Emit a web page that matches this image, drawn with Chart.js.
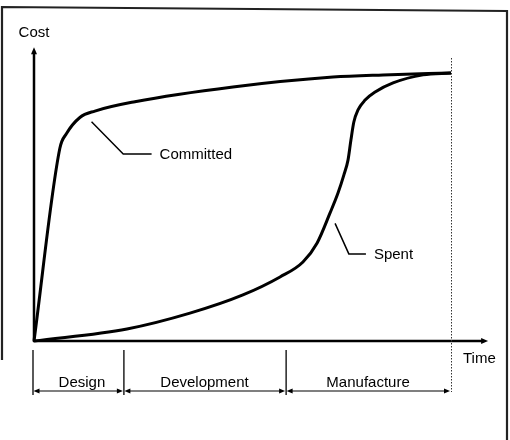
<!DOCTYPE html>
<html>
<head>
<meta charset="utf-8">
<script src="https://cdn.jsdelivr.net/npm/chart.js@4"></script>
<style>
html,body{margin:0;padding:0;background:#fff;}
#wrap{width:510px;height:440px;position:relative;}
</style>
</head>
<body>
<div id="wrap"><canvas id="c" width="510" height="440"></canvas></div>
<script>
// ---- data (time and cost in relative units, 100 = end of manufacture) ----
const timeCommitted = [0, 6.2, 7.8, 11.0, 14.6, 24.2, 47.7, 71.7, 83.7, 100];
const costCommitted = [0, 71.9, 77.4, 83.4, 85.8, 89.3, 94.8, 98.5, 99.3, 100];

const timeSpent = [0, 22.3, 37.4, 50.1, 59.0, 64.5, 67.9, 71.0, 72.9, 74.3, 75.3, 76.0, 76.7, 77.7, 79.4, 81.8, 86.1, 93.3, 100];
const costSpent = [0, 4.5, 10.4, 17.2, 23.9, 29.5, 36.6, 47.8, 55.2, 61.9, 67.5, 75.0, 81.7, 86.2, 89.9, 92.9, 96.3, 99.3, 100];

const phaseNames = ['Design', 'Development', 'Manufacture'];
const phaseBounds = [0, 21.8, 60.7, 100];

const axisTitleX = 'Time';
const axisTitleY = 'Cost';

// leader lines for the curve labels: [t, cost] points, label anchored at the last one
const labelCommitted = 'Committed';
const leaderCommitted = [[13.8, 81.8], [21.4, 69.8], [28.2, 69.8]];
const labelSpent = 'Spent';
const leaderSpent = [[72.2, 43.9], [75.5, 32.5], [79.6, 32.5]];

const toXY = (xs, ys) => xs.map((x, i) => ({x: x, y: ys[i]}));

const FONT = '15px "Liberation Sans", Arial, sans-serif';

function arrowHead(ctx, x, y, dir, len, half) {
  ctx.beginPath();
  if (dir === 'up') { ctx.moveTo(x, y); ctx.lineTo(x - half, y + len); ctx.lineTo(x + half, y + len); }
  if (dir === 'right') { ctx.moveTo(x, y); ctx.lineTo(x - len, y - half); ctx.lineTo(x - len, y + half); }
  if (dir === 'left') { ctx.moveTo(x, y); ctx.lineTo(x + len, y - half); ctx.lineTo(x + len, y + half); }
  ctx.closePath();
  ctx.fill();
}

const decor = {
  id: 'decor',
  beforeDatasetsDraw(chart) {
    const ctx = chart.ctx;
    const xs = chart.scales.x, ys = chart.scales.y;
    const X = v => xs.getPixelForValue(v), Y = v => ys.getPixelForValue(v);
    ctx.save();
    // frame
    ctx.strokeStyle = '#222';
    ctx.lineWidth = 2.2;
    ctx.beginPath();
    ctx.moveTo(2, 360); ctx.lineTo(2, 7); ctx.lineTo(507, 11); ctx.lineTo(507, 440);
    ctx.stroke();

    ctx.strokeStyle = '#000'; ctx.fillStyle = '#000';
    // y axis
    const x0 = X(0), y0 = Y(0);
    const yTop = Y(109.6), xEnd = X(108.9);
    ctx.lineWidth = 2.5;
    ctx.beginPath(); ctx.moveTo(x0, y0 + 1); ctx.lineTo(x0, yTop + 5); ctx.stroke();
    arrowHead(ctx, x0, yTop, 'up', 7, 3);
    // x axis
    ctx.beginPath(); ctx.moveTo(x0 - 1, y0); ctx.lineTo(xEnd - 5, y0); ctx.stroke();
    arrowHead(ctx, xEnd, y0, 'right', 7, 3);

    // dotted end line
    const xE = X(phaseBounds[phaseBounds.length - 1]);
    ctx.lineWidth = 1;
    ctx.strokeStyle = '#333';
    ctx.setLineDash([1.5, 1.5]);
    ctx.beginPath(); ctx.moveTo(xE + 0.5, 58); ctx.lineTo(xE + 0.5, 392); ctx.stroke();
    ctx.setLineDash([]);

    // phase bar
    ctx.strokeStyle = '#000';
    ctx.lineWidth = 1.3;
    const barY = 391;
    for (let i = 0; i < phaseBounds.length - 1; i++) {
      const px = X(phaseBounds[i]);
      ctx.beginPath(); ctx.moveTo(px - 1, 350); ctx.lineTo(px - 1, 395); ctx.stroke();
    }
    ctx.lineWidth = 1.2;
    for (let i = 0; i < phaseNames.length; i++) {
      const a = X(phaseBounds[i]) - 1, b = X(phaseBounds[i + 1]) - (i === phaseNames.length - 1 ? 1 : 2);
      ctx.beginPath(); ctx.moveTo(a + 3, barY); ctx.lineTo(b - 3, barY); ctx.stroke();
      arrowHead(ctx, a + 0.5, barY, 'left', 6, 2.5);
      arrowHead(ctx, b, barY, 'right', 6, 2.5);
      ctx.font = FONT;
      ctx.textAlign = 'center';
      ctx.textBaseline = 'alphabetic';
      ctx.fillText(phaseNames[i], (a + b) / 2 + (i === 0 ? 4 : 0), 387);
    }

    // axis titles
    ctx.font = FONT;
    ctx.textAlign = 'center';
    ctx.fillText(axisTitleY, x0, 37);
    ctx.textAlign = 'left';
    ctx.fillText(axisTitleX, 463, 363);

    // leaders
    ctx.lineWidth = 1.5;
    [[leaderCommitted, labelCommitted], [leaderSpent, labelSpent]].forEach(([pts, txt]) => {
      ctx.beginPath();
      pts.forEach((p, i) => { const px = X(p[0]), py = Y(p[1]); if (i) ctx.lineTo(px, py); else ctx.moveTo(px, py); });
      ctx.stroke();
      const last = pts[pts.length - 1];
      ctx.textAlign = 'left';
      ctx.fillText(txt, X(last[0]) + 8, Y(last[1]) + 5.5);
    });
    ctx.restore();
  }
};

new Chart(document.getElementById('c'), {
  type: 'scatter',
  data: {
    datasets: [
      { label: labelCommitted, data: toXY(timeCommitted, costCommitted), showLine: true,
        borderColor: '#000', borderWidth: 3, pointRadius: 0, cubicInterpolationMode: 'monotone', clip: false },
      { label: labelSpent, data: toXY(timeSpent, costSpent), showLine: true,
        borderColor: '#000', borderWidth: 3, pointRadius: 0, cubicInterpolationMode: 'monotone', clip: false }
    ]
  },
  options: {
    responsive: false,
    animation: false,
    layout: { padding: { left: 34, right: 17.3, top: 46.2, bottom: 99 } },
    scales: {
      x: { type: 'linear', min: 0, max: 110, display: false },
      y: { type: 'linear', min: 0, max: 110, display: false }
    },
    plugins: { legend: { display: false }, tooltip: { enabled: false } }
  },
  plugins: [decor]
});
</script>
</body>
</html>
